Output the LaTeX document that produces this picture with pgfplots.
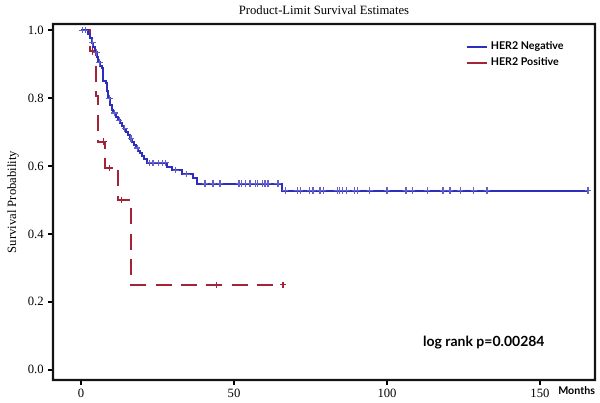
\documentclass[border=0pt]{standalone}
\usepackage{fontspec}
\setmainfont{Liberation Serif}
\newfontfamily\legfont{Lato}
\usepackage{pgfplots}
\pgfplotsset{compat=1.18}
\usetikzlibrary{calc}

\definecolor{negblue}{RGB}{45,45,190}
\definecolor{posred}{RGB}{165,35,55}
\definecolor{framec}{RGB}{20,20,20}

\begin{document}
\begin{tikzpicture}
\begin{axis}[scale only axis, width=406.5pt, height=267pt,
  xmin=-9.2, xmax=168, ymin=-0.03, ymax=1.018,
  xtick={0,50,100,150}, ytick={0,0.2,...,1.0},
  yticklabel style={/pgf/number format/.cd, fixed, fixed zerofill, precision=1},
  /pgf/number format/assume math mode=true,
  tick label style={font=\fontsize{9.5}{11}\selectfont},
  tick align=outside, xtick pos=bottom, ytick pos=left, major tick length=3.5pt,
  axis line style={line width=1.5pt, framec},
  tick style={line width=1.2pt, black},
  clip=false,
  ylabel={Survival Probability}, ylabel style={font=\fontsize{9.5}{11}\selectfont, at={(rel axis cs:0,0.5)}, anchor=south, yshift=22pt},
  legend style={draw=none, fill=none, at={(rel axis cs:0.755,0.965)}, anchor=north west,
    font=\legfont\bfseries\fontsize{8}{9.5}\selectfont, row sep=0.5pt,
    legend cell align=left},
  legend image code/.code={\draw[#1] plot coordinates {(0pt,0pt) (15pt,0pt)};}]
\addlegendimage{negblue, line width=1.3pt, sharp plot}
\addlegendentry{HER2 Negative}
\addlegendimage{posred, line width=1.3pt, sharp plot}
\addlegendentry{HER2 Positive}
% frame as a filled ring
\fill[framec, even odd rule] ($(rel axis cs:0,0)+(-0.8pt,-0.8pt)$) rectangle ($(rel axis cs:1,1)+(0.8pt,0.8pt)$)
  ($(rel axis cs:0,0)+(0.8pt,0.8pt)$) rectangle ($(rel axis cs:1,1)+(-0.8pt,-0.8pt)$);
% HER2 positive, dashed step curve
\addplot[const plot, posred, line width=1.5pt, dash pattern=on 12pt off 7pt, forget plot]
  coordinates {(0,1)(3.0,0.9375)(4.9,0.806)(5.5,0.672)(7.8,0.594)(12.1,0.5)(16.3,0.25)(66.0,0.25)};
\addplot[only marks, mark=+, mark size=2.5pt, mark options={line width=0.8pt}, posred, forget plot]
  coordinates {(3.6,0.9375)(7.4,0.672)(9.3,0.594)(13.3,0.5)(44.4,0.25)(66.0,0.25)};
% HER2 negative
\addplot[const plot, negblue, line width=1.5pt, forget plot]
  coordinates {(0,1.0)(2.3,0.988)(2.9,0.976)(3.6,0.963)(4.0,0.95)(4.6,0.935)(5.2,0.92)(5.6,0.905)
  (6.2,0.895)(6.9,0.888)(7.0,0.85)(8.2,0.844)(8.6,0.82)(8.9,0.80)(9.5,0.78)(10.1,0.765)(10.5,0.756)
  (11.4,0.745)(12.0,0.735)(12.7,0.726)(13.4,0.718)(14.0,0.71)(14.7,0.70)(15.4,0.69)(16.0,0.68)
  (16.7,0.67)(17.4,0.662)(18.0,0.653)(18.6,0.645)(19.3,0.637)(20.0,0.628)(20.6,0.62)(21.6,0.609)
  (28.1,0.597)(29.7,0.588)(33.0,0.576)(36.6,0.565)(37.9,0.548)(65.7,0.527)(165.7,0.527)};
\addplot[only marks, mark=+, mark size=2.5pt, mark options={line width=0.8pt}, negblue!75, forget plot]
  coordinates {(0.5,1)(1.3,1)(3.7,0.963)(5.0,0.935)(6.0,0.905)(9.2,0.80)(11.0,0.756)(12.4,0.735)
  (14.3,0.71)(16.3,0.68)(18.3,0.653)(22.5,0.609)(23.5,0.609)(25.2,0.609)(26.5,0.609)(27.5,0.609)
  (31.0,0.588)(34.5,0.576)
  (40.5,0.548)(43.1,0.548)(45.4,0.548)(51.6,0.548)(52.3,0.548)(53.6,0.548)(55.2,0.548)(56.9,0.548)
  (57.8,0.548)(59.2,0.548)(60.1,0.548)(61.1,0.548)(64.1,0.548)(64.4,0.548)
  (66.7,0.527)(70.6,0.527)(71.6,0.527)(74.8,0.527)(75.8,0.527)(78.1,0.527)(79.1,0.527)(83.7,0.527)
  (84.6,0.527)(85.6,0.527)(86.9,0.527)(89.5,0.527)(90.2,0.527)(94.4,0.527)(100.0,0.527)(106.2,0.527)
  (108.2,0.527)(113.1,0.527)(118.3,0.527)(120.6,0.527)(123.9,0.527)(128.4,0.527)(132.7,0.527)(165.7,0.527)};
\node[font=\legfont\bfseries\fontsize{10.5}{12}\selectfont] at (rel axis cs:0.795,0.104) {log rank p=0.00284};
\node[font=\legfont\bfseries\fontsize{8}{9}\selectfont, anchor=base] at (axis cs:162,-0.03) [yshift=-11pt] {Months};
\node[font=\fontsize{9.5}{11}\selectfont, anchor=base] at (rel axis cs:0.5,1) [yshift=7pt] {Product-Limit Survival Estimates};
\end{axis}
\pgfresetboundingbox
\path ($(current axis.south west)+(-39.75pt,-17.25pt)$) rectangle ($(current axis.north east)+(3.75pt,18pt)$);
\end{tikzpicture}
\end{document}
